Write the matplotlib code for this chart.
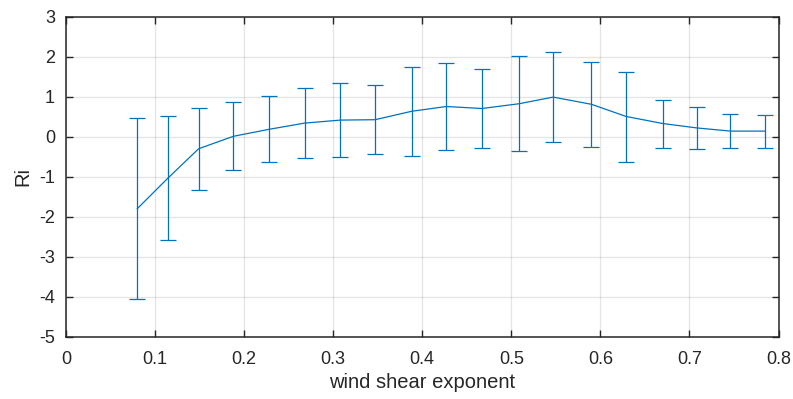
import matplotlib
matplotlib.use("Agg")
import matplotlib.pyplot as plt

# data
shear = [0.080, 0.114, 0.149, 0.188, 0.228, 0.268, 0.308, 0.347, 0.388, 0.427,
         0.467, 0.509, 0.547, 0.590, 0.629, 0.670, 0.708, 0.746, 0.785]
ri = [-1.80, -1.045, -0.30, 0.01, 0.185, 0.34, 0.415, 0.425, 0.635, 0.755,
      0.705, 0.825, 0.99, 0.81, 0.505, 0.33, 0.22, 0.14, 0.14]
ri_err = [2.26, 1.55, 1.02, 0.85, 0.825, 0.88, 0.915, 0.865, 1.115, 1.095,
          0.985, 1.185, 1.12, 1.06, 1.125, 0.60, 0.53, 0.42, 0.415]

plt.rcParams['font.family'] = ['Liberation Sans', 'DejaVu Sans']
plt.rcParams['axes.unicode_minus'] = False

W, H = 793, 399
fig = plt.figure(figsize=(W/100, H/100), dpi=100)
ax = fig.add_axes([66/W, 1-336.7/H, (778.5-66)/W, (336.7-16.7)/H])

ax.errorbar(shear, ri, yerr=ri_err, color='#0072BD', lw=0.9, elinewidth=0.9,
            capsize=5.8, capthick=0.9)

ax.set_xlim(0, 0.8)
ax.set_ylim(-5, 3)
ax.set_xticks([0, 0.1, 0.2, 0.3, 0.4, 0.5, 0.6, 0.7, 0.8])
ax.set_xticklabels(['0', '0.1', '0.2', '0.3', '0.4', '0.5', '0.6', '0.7', '0.8'])
ax.set_yticks(range(-5, 4))
ax.grid(True, color='#262626', alpha=0.12, lw=0.9)
ax.tick_params(direction='in', length=5, width=1, top=True, right=True,
               labelsize=13, colors='#262626')
ax.tick_params(axis='x', pad=10)
ax.tick_params(axis='y', pad=8)
for s in ax.spines.values():
    s.set_color('#262626')
    s.set_linewidth(1.1)
ax.set_xlabel('wind shear exponent', fontsize=14.5, color='#262626', labelpad=4)
ax.set_ylabel('Ri', fontsize=14.5, color='#262626', labelpad=5)

fig.savefig('out.png', dpi=100)
